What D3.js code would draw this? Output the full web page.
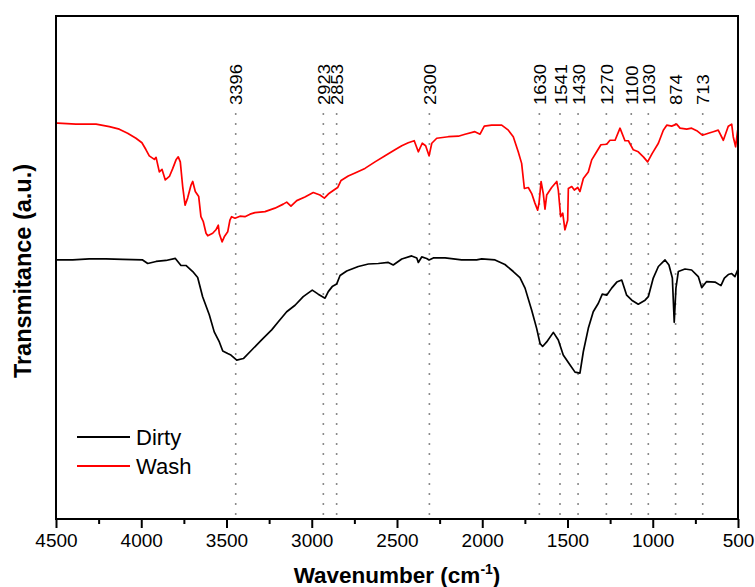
<!DOCTYPE html>
<html>
<head>
<meta charset="utf-8">
<script src="https://cdn.jsdelivr.net/npm/d3@7"></script>
<style>
  body { margin: 0; background: #fff; }
  svg { display: block; font-family: Arial, "Liberation Sans", sans-serif; }
</style>
</head>
<body>
<div id="chart"></div>
<script>
const WIDTH = 755;
const HEIGHT = 587;
const margin = {top: 16, right: 17, bottom: 68, left: 56};

// x ticks (wavenumber, cm-1)
const majorTicks = [4500, 4000, 3500, 3000, 2500, 2000, 1500, 1000, 500];
const minorTicks = [4250, 3750, 3250, 2750, 2250, 1750, 1250, 750];

// marked bands: label text and where the dotted guide sits
const peakLabels = ['3396', '2923', '2853', '2300', '1630', '1541', '1430', '1270', '1100', '1030', '874', '713'];
const peakAt = [3446, 2932, 2854, 2310, 1665, 1544, 1438, 1272, 1126, 1026, 866, 707];

const seriesNames = ['Dirty', 'Wash'];

// [wavenumber, transmittance (a.u.)]
const dirty = [
  [4500,51.5],[4402,51.5],[4305,51.7],[4207,51.7],[4109,51.6],[3992,51.5],[3962,50.8],[3913,51.2],
  [3855,51.4],[3800,51.8],[3767,50.4],[3738,50.4],[3698,49.2],[3669,48.0],[3640,44.2],[3601,40.6],
  [3572,37.2],[3542,35.2],[3522,33.4],[3493,32.9],[3474,32.6],[3440,31.6],[3401,31.9],[3352,33.6],
  [3294,35.6],[3235,37.6],[3196,39.2],[3147,41.2],[3098,42.5],[3050,44.2],[2997,45.5],[2962,44.7],
  [2922,43.9],[2903,45.2],[2880,46.2],[2854,46.7],[2834,48.4],[2795,49.3],[2727,50.2],[2668,50.7],
  [2610,50.8],[2551,51.0],[2522,50.5],[2472,51.7],[2414,52.3],[2384,51.9],[2375,51.0],[2355,52.1],
  [2326,51.8],[2312,51.5],[2287,51.9],[2218,51.9],[2121,51.5],[2033,51.5],[2003,51.7],[1925,51.5],
  [1867,50.6],[1818,49.2],[1779,48.0],[1749,45.9],[1710,41.5],[1681,37.9],[1661,34.9],[1646,34.3],
  [1622,35.2],[1583,37.1],[1554,35.6],[1525,32.6],[1485,30.6],[1456,29.2],[1427,29.0],[1407,33.3],
  [1378,37.9],[1349,41.2],[1319,42.9],[1296,44.7],[1270,44.5],[1241,45.9],[1211,47.1],[1182,47.5],
  [1153,44.5],[1123,43.5],[1085,42.7],[1045,43.5],[1026,44.2],[997,47.9],[967,50.2],[928,51.5],
  [905,50.5],[885,47.9],[874,39.1],[864,45.9],[850,49.2],[811,49.7],[772,49.5],[733,48.2],
  [713,46.0],[684,47.2],[635,47.1],[600,46.4],[580,47.9],[557,48.6],[537,48.8],[518,48.2],[502,49.5]
];

const wash = [
  [4500,78.7],[4490,78.7],[4383,78.5],[4265,78.5],[4187,78.0],[4129,77.5],[4080,76.7],[4031,75.7],
  [3996,74.8],[3972,73.4],[3953,72.2],[3923,71.5],[3913,71.9],[3894,69.0],[3878,69.5],[3859,67.4],
  [3835,68.1],[3815,69.7],[3796,71.4],[3783,72.0],[3771,71.0],[3757,66.1],[3743,62.4],[3728,63.8],
  [3708,66.4],[3698,67.1],[3683,65.1],[3663,64.1],[3650,60.1],[3636,59.1],[3620,56.8],[3610,56.3],
  [3581,56.8],[3562,57.5],[3548,58.4],[3542,56.7],[3526,55.1],[3513,56.1],[3493,57.1],[3480,59.4],
  [3470,60.1],[3450,59.8],[3421,60.2],[3392,60.1],[3362,60.6],[3333,60.9],[3274,61.1],[3216,61.8],
  [3167,62.6],[3147,63.0],[3122,62.2],[3088,63.3],[3040,64.0],[2991,64.9],[2952,64.4],[2926,63.8],
  [2903,64.6],[2874,65.3],[2848,65.9],[2828,67.3],[2786,68.2],[2746,68.8],[2688,69.7],[2629,71.0],
  [2570,72.2],[2512,73.4],[2472,74.2],[2434,74.8],[2399,75.2],[2375,73.0],[2352,74.7],[2332,74.2],
  [2312,72.2],[2296,74.7],[2267,75.7],[2199,76.0],[2140,76.1],[2101,76.5],[2043,77.0],[2013,76.5],
  [1988,78.1],[1945,78.3],[1886,78.3],[1847,77.3],[1818,76.0],[1789,73.0],[1769,70.7],[1753,65.7],
  [1730,65.9],[1710,64.7],[1691,62.8],[1675,61.4],[1667,62.8],[1655,67.1],[1642,64.7],[1632,61.6],
  [1622,64.4],[1593,65.9],[1563,67.1],[1554,65.4],[1540,60.1],[1528,60.8],[1515,57.5],[1499,59.4],
  [1495,65.7],[1475,66.1],[1460,65.4],[1440,65.9],[1427,65.1],[1407,67.7],[1378,69.0],[1358,71.4],
  [1329,73.0],[1304,74.4],[1270,74.5],[1251,75.3],[1221,75.3],[1192,77.7],[1163,75.2],[1143,75.2],
  [1114,73.4],[1085,73.0],[1055,72.0],[1030,71.0],[1003,72.7],[967,74.7],[938,77.3],[918,78.3],
  [889,78.1],[860,78.5],[840,77.7],[801,77.5],[772,77.7],[742,77.2],[709,76.3],[674,76.7],
  [645,77.0],[616,77.3],[586,75.3],[557,78.1],[537,78.5],[528,76.0],[514,74.0],[502,77.3]
];

const colors = ['#000000', '#ff0000'];

const innerW = WIDTH - margin.left - margin.right;
const innerH = HEIGHT - margin.top - margin.bottom;

const xScale = d3.scaleLinear().domain([4500, 500]).range([0, innerW]);
const yScale = d3.scaleLinear().domain([0, 100]).range([innerH, 0]);

const svg = d3.select('#chart')
  .append('svg')
  .attr('width', WIDTH)
  .attr('height', HEIGHT);

const g = svg.append('g')
  .attr('transform', `translate(${margin.left},${margin.top})`);

// dotted guides for the bands
const guideTop = 97;
g.selectAll('line.guide')
  .data(peakAt)
  .enter()
  .append('line')
  .attr('class', 'guide')
  .attr('x1', d => xScale(d))
  .attr('x2', d => xScale(d))
  .attr('y1', guideTop)
  .attr('y2', innerH)
  .attr('stroke', '#8a8a8a')
  .attr('stroke-width', 1.6)
  .attr('stroke-dasharray', '2,8');

// labels are a bit narrow/tall in the original, so stretch along the text
g.selectAll('text.peak')
  .data(peakAt)
  .enter()
  .append('text')
  .attr('class', 'peak')
  .attr('transform', d => `translate(${xScale(d) + 1},${guideTop - 8}) rotate(-90) scale(1.15,1)`)
  .attr('text-anchor', 'start')
  .attr('dy', '0.36em')
  .attr('font-size', 16)
  .attr('fill', '#000')
  .text((d, i) => peakLabels[i]);

// spectra
const line = d3.line()
  .x(d => xScale(d[0]))
  .y(d => yScale(d[1]));

g.selectAll('path.spectrum')
  .data([dirty, wash])
  .enter()
  .append('path')
  .attr('class', 'spectrum')
  .attr('d', line)
  .attr('fill', 'none')
  .attr('stroke', (d, i) => colors[i])
  .attr('stroke-width', 1.7)
  .attr('stroke-linejoin', 'round');

// bottom axis: major and minor ticks
const xAxis = g.append('g')
  .attr('transform', `translate(0,${innerH})`)
  .call(d3.axisBottom(xScale).tickValues(majorTicks).tickSize(9).tickPadding(6).tickFormat(d3.format('d')));

const xMinor = g.append('g')
  .attr('transform', `translate(0,${innerH})`)
  .call(d3.axisBottom(xScale).tickValues(minorTicks).tickSize(5).tickFormat(''));

[xAxis, xMinor].forEach(a => {
  a.select('.domain').remove();
  a.selectAll('line').attr('stroke', '#000').attr('stroke-width', 2);
});
xAxis.selectAll('text')
  .attr('font-size', 19)
  .attr('font-family', 'Arial, "Liberation Sans", sans-serif')
  .attr('fill', '#000');

// frame
g.append('rect')
  .attr('width', innerW)
  .attr('height', innerH)
  .attr('fill', 'none')
  .attr('stroke', '#000')
  .attr('stroke-width', 2);

// legend
const legend = g.append('g')
  .attr('transform', 'translate(21,421)');

const legendItems = legend.selectAll('g')
  .data(seriesNames)
  .enter()
  .append('g')
  .attr('transform', (d, i) => `translate(0,${i * 29})`);

legendItems.append('line')
  .attr('x1', 0)
  .attr('x2', 53)
  .attr('stroke', (d, i) => colors[i])
  .attr('stroke-width', 2);

legendItems.append('text')
  .attr('x', 59)
  .attr('y', 8)
  .attr('font-size', 22)
  .attr('fill', '#000')
  .text(d => d);

// axis titles
const xTitle = svg.append('text')
  .attr('x', margin.left + innerW / 2)
  .attr('y', 583)
  .attr('text-anchor', 'middle')
  .attr('font-size', 22.5)
  .attr('font-weight', 'bold');
xTitle.append('tspan').text('Wavenumber (cm');
xTitle.append('tspan').attr('font-size', 14).attr('dy', -9).text('-1');
xTitle.append('tspan').attr('dy', 9).text(')');

svg.append('text')
  .attr('transform', 'translate(31,271) rotate(-90)')
  .attr('text-anchor', 'middle')
  .attr('font-size', 23.5)
  .attr('font-weight', 'bold')
  .text('Transmitance (a.u.)');
</script>
</body>
</html>
